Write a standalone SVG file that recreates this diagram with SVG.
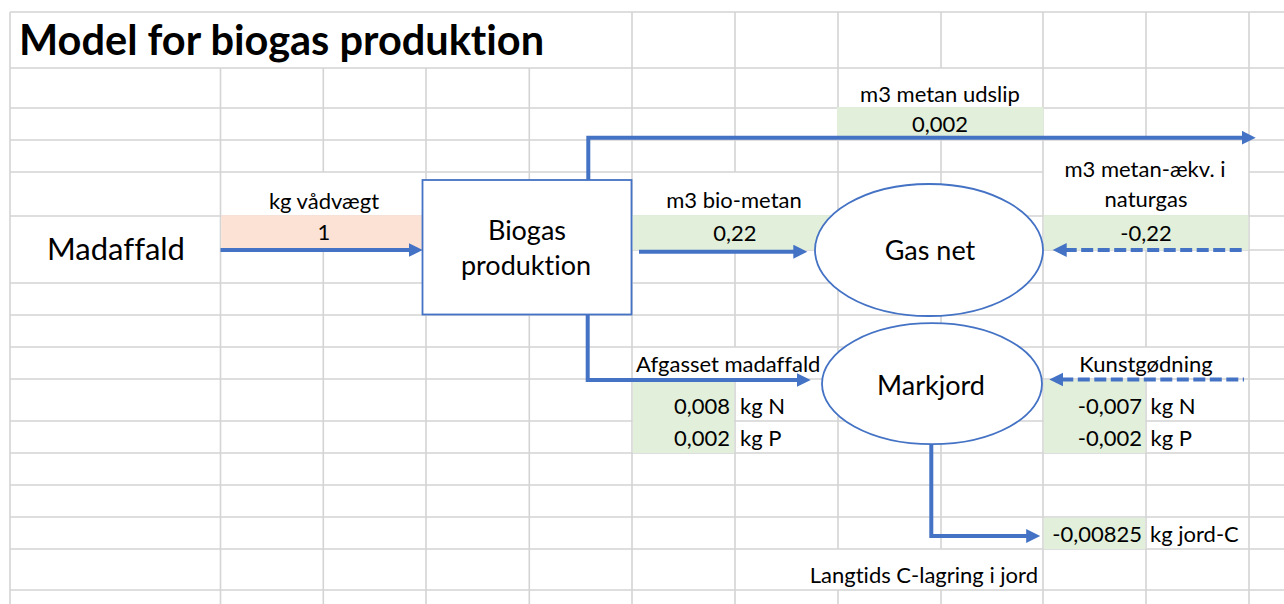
<svg xmlns="http://www.w3.org/2000/svg" width="1284" height="604" viewBox="0 0 1284 604">
<style>
  .grid { stroke: #D4D4D4; stroke-width: 1.6; fill: none; }
  .green { fill: #E2EFDA; }
  .peach { fill: #FBE2D5; }
  text { font-family: Lato, "Liberation Sans", sans-serif; fill: #000; font-variant-ligatures: none; font-feature-settings: "liga" 0, "clig" 0; }
  .lbl { font-size: 22px; }
  .mid { text-anchor: middle; }
  .end { text-anchor: end; }
  .node-text { font-size: 27px; text-anchor: middle; }
  .shape { fill: #FFFFFF; stroke: #4472C4; stroke-width: 1.8; }
  .conn { fill: none; stroke: #4472C4; stroke-width: 4; }
  .dash { stroke-dasharray: 12 4.5; }
</style>
<defs>
  <marker id="arrow" markerUnits="userSpaceOnUse" markerWidth="16" markerHeight="16" refX="2" refY="7" orient="auto-start-reverse">
    <path d="M0,0 L14,7 L0,14 z" fill="#4472C4"/>
  </marker>
</defs>
<rect x="0" y="0" width="1284" height="604" fill="#FFFFFF"/>

<g id="grid" class="grid">
  <path d="M10,12 V604 M220.5,68 V604 M323.3,68 V172 M323.3,249 V604 M426,68 V604 M529.3,68 V604 M632,12 V604 M735,12 V172 M735,250 V347 M735,379 V604 M838,12 V549 M838,590 V604 M941,12 V68 M941,140 V549 M941,590 V604 M1043,12 V604 M1146,12 V140 M1146,250 V347 M1146,379 V604 M1249,12 V604"/>
  <path d="M10,12 H1284 M10,68 H1284 M10,108 H1284 M10,140 H1284 M10,172 H1043 M1249,172 H1284 M10,216 H1284 M220.5,250 H1284 M10,283 H1284 M10,315 H1284 M10,347 H1284 M10,379 H1284 M10,421 H1284 M10,453 H1284 M10,485 H1284 M10,517 H1284 M10,549 H1284 M10,590 H1284"/>
</g>

<g id="cells">
  <rect class="peach" x="221.3" y="215.2" width="205" height="34.6"/>
  <rect class="green" x="837" y="107.2" width="206.5" height="32.6"/>
  <rect class="green" x="632.8" y="215.2" width="205" height="34.6"/>
  <rect class="green" x="1043.8" y="215.2" width="204.4" height="34.6"/>
  <rect class="green" x="632.8" y="379.8" width="101.4" height="73.2"/>
  <rect class="green" x="1043.8" y="379.8" width="101.4" height="73.2"/>
  <rect class="green" x="1043.8" y="517.8" width="101.4" height="31.2"/>
</g>

<g id="title">
  <text x="19" y="55" font-size="41.5" font-weight="bold">Model for biogas produktion</text>
</g>

<g id="labels">
  <text class="lbl mid" x="324" y="209">kg vådvægt</text>
  <text class="lbl mid" x="324" y="240">1</text>
  <text class="lbl mid" x="940" y="102">m3 metan udslip</text>
  <text class="lbl mid" x="940" y="132">0,002</text>
  <text class="lbl mid" x="734" y="208">m3 bio-metan</text>
  <text class="lbl mid" x="735" y="241">0,22</text>
  <text class="lbl mid" x="1145" y="177">m3 metan-ækv. i</text>
  <text class="lbl mid" x="1146" y="207">naturgas</text>
  <text class="lbl mid" x="1146" y="241">-0,22</text>
  <text class="lbl" x="636" y="372">Afgasset madaffald</text>
  <text class="lbl end" x="730" y="414">0,008</text>
  <text class="lbl" x="740" y="414">kg N</text>
  <text class="lbl end" x="730" y="446">0,002</text>
  <text class="lbl" x="740" y="446">kg P</text>
  <text class="lbl mid" x="1146" y="372">Kunstgødning</text>
  <text class="lbl end" x="1142" y="414">-0,007</text>
  <text class="lbl" x="1150.5" y="414">kg N</text>
  <text class="lbl end" x="1142" y="446">-0,002</text>
  <text class="lbl" x="1150.5" y="446">kg P</text>
  <text class="lbl end" x="1142" y="541.5">-0,00825</text>
  <text class="lbl" x="1150" y="541.5">kg jord-C</text>
  <text class="lbl end" x="1038" y="583">Langtids C-lagring i jord</text>
</g>

<g id="node-madaffald">
  <text x="116" y="260" font-size="31" text-anchor="middle">Madaffald</text>
</g>

<g id="node-biogas">
  <rect class="shape" x="422.5" y="180" width="209" height="134.5" stroke-width="1.5"/>
  <text class="node-text" x="527" y="240">Biogas</text>
  <text class="node-text" x="526" y="275">produktion</text>
</g>

<g id="node-gasnet">
  <ellipse class="shape" cx="929" cy="250" rx="114" ry="66"/>
  <text class="node-text" x="930" y="260">Gas net</text>
</g>

<g id="node-markjord">
  <ellipse class="shape" cx="932" cy="383.7" rx="110" ry="60.5"/>
  <text class="node-text" x="931" y="395">Markjord</text>
</g>

<g id="connectors">
  <path class="conn" d="M220.5,250 H410.7" marker-end="url(#arrow)"/>
  <path class="conn" d="M588.3,180 V137.7 H1243.7" marker-end="url(#arrow)"/>
  <path class="conn" d="M639,251.7 H795.3" marker-end="url(#arrow)"/>
  <path class="conn dash" d="M1064.7,250 H1245" marker-start="url(#arrow)"/>
  <path class="conn" d="M587.7,314 V380 H798.7" marker-end="url(#arrow)"/>
  <path class="conn dash" d="M1061.3,379.5 H1244" marker-start="url(#arrow)"/>
  <path class="conn" d="M931.3,444 V536 H1028.2" marker-end="url(#arrow)"/>
</g>
</svg>
